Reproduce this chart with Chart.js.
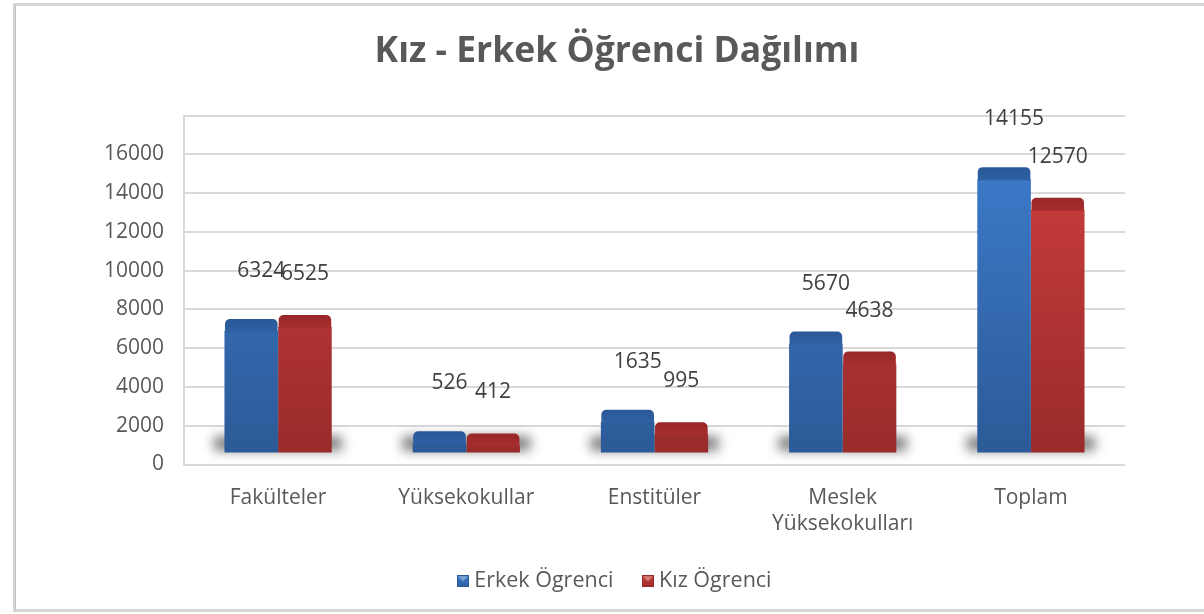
<!DOCTYPE html>
<html>
<head>
<meta charset="utf-8">
<script src="https://cdn.jsdelivr.net/npm/chart.js@4.4.0/dist/chart.umd.min.js"></script>
<style>
  html, body { margin: 0; padding: 0; background: #ffffff; }
  #wrap { position: relative; width: 1204px; height: 614px; }
  canvas { display: block; }
</style>
</head>
<body>
<div id="wrap"><canvas id="c" width="1204" height="614"></canvas></div>
<script>
// ---- data ----
const chartTitle = "Kız - Erkek Öğrenci Dağılımı";
const categories = ["Fakülteler", "Yüksekokullar", "Enstitüler", ["Meslek", "Yüksekokulları"], "Toplam"];
const seriesNames = ["Erkek Ögrenci", "Kız Ögrenci"];
const erkekValues = [6324, 526, 1635, 5670, 14155];
const kizValues = [6525, 412, 995, 4638, 12570];
const yTicks = [0, 2000, 4000, 6000, 8000, 10000, 12000, 14000, 16000];

// ---- styling ----
const FONT = "'Open Sans', 'Noto Sans', sans-serif";
const LIFT = 11;   // 3D floor lift
const CAP = 12;    // 3D top face
const palette = [
  { top: "#3f80d3", bottom: "#2c5a97", cap: "#2e60a3", capTop: "#2a5896", label: "#404040", dx: 10, dy: 48 },
  { top: "#d4413f", bottom: "#992b2b", cap: "#a52d2d", capTop: "#982828", label: "#404040", dx: 0, dy: 41 }
];

function barGradient(idx) {
  return function (ctx) {
    const chart = ctx.chart;
    const area = chart.chartArea;
    if (!area) return palette[idx].top;
    const g = chart.ctx.createLinearGradient(0, area.top, 0, area.bottom);
    g.addColorStop(0, palette[idx].top);
    g.addColorStop(1, palette[idx].bottom);
    return g;
  };
}

function legendIcon(idx) {
  const c = document.createElement("canvas");
  c.width = 12; c.height = 12;
  const x = c.getContext("2d");
  const p = palette[idx];
  x.fillStyle = p.bottom; x.fillRect(0, 0, 12, 12);
  const g = x.createLinearGradient(0, 0, 0, 12);
  g.addColorStop(0, p.top); g.addColorStop(1, p.bottom);
  x.fillStyle = g; x.fillRect(1, 1, 10, 10);
  x.fillStyle = "rgba(255,255,255,0.35)";
  x.beginPath(); x.moveTo(1, 1); x.lineTo(11, 1); x.lineTo(6, 6); x.closePath(); x.fill();
  return c;
}
const icons = [legendIcon(0), legendIcon(1)];

const frame3d = {
  id: "frame3d",
  beforeDraw(chart) {
    const ctx = chart.ctx;
    ctx.save();
    ctx.fillStyle = "#ffffff";
    ctx.fillRect(0, 0, chart.width, chart.height);
    ctx.strokeStyle = "#d6d6d6";
    ctx.lineWidth = 3;
    ctx.strokeRect(14.5, 4.5, chart.width + 10, 606);
    ctx.strokeStyle = "#c4c4c4";
    ctx.lineWidth = 1;
    ctx.beginPath(); ctx.moveTo(15.5, 5); ctx.lineTo(15.5, 611); ctx.stroke();
    ctx.restore();
  },
  beforeDatasetsDraw(chart) {
    const ctx = chart.ctx;
    const xs = chart.scales.x, ys = chart.scales.y;
    const base = ys.getPixelForValue(0) - LIFT;
    ctx.save();
    ctx.filter = "blur(6px)";
    ctx.fillStyle = "rgba(105,105,105,0.9)";
    categories.forEach((c, i) => {
      const cx = xs.getPixelForValue(i);
      ctx.fillRect(cx - 64, base - 17, 128, 14);
    });
    ctx.restore();
    ctx.save();
    ctx.translate(0, -LIFT);
  },
  afterDatasetsDraw(chart) {
    const ctx = chart.ctx;
    chart.data.datasets.forEach((ds, di) => {
      const meta = chart.getDatasetMeta(di);
      const p = palette[di];
      meta.data.forEach((bar) => {
        const w = bar.width;
        const l = bar.x - w / 2, t = bar.y - CAP;
        const g = ctx.createLinearGradient(0, t, 0, bar.y);
        g.addColorStop(0, p.capTop); g.addColorStop(1, p.cap);
        ctx.fillStyle = g;
        ctx.beginPath();
        ctx.roundRect(l + 0.5, t, w - 1, CAP + 1, [5, 5, 0, 0]);
        ctx.fill();
      });
    });
    ctx.restore();
    ctx.save();
    ctx.font = "21px " + FONT;
    ctx.textAlign = "center";
    ctx.textBaseline = "middle";
    chart.data.datasets.forEach((ds, di) => {
      const meta = chart.getDatasetMeta(di);
      const p = palette[di];
      meta.data.forEach((bar, i) => {
        ctx.fillStyle = p.label;
        ctx.fillText(String(ds.data[i]), bar.x + p.dx, bar.y - LIFT - CAP - p.dy);
      });
    });
    ctx.restore();
  }
};

new Chart(document.getElementById("c"), {
  type: "bar",
  data: {
    labels: categories,
    datasets: [
      { label: seriesNames[0], data: erkekValues, backgroundColor: barGradient(0), borderWidth: 0 },
      { label: seriesNames[1], data: kizValues, backgroundColor: barGradient(1), borderWidth: 0 }
    ]
  },
  plugins: [frame3d],
  options: {
    responsive: false,
    animation: false,
    devicePixelRatio: 1,
    categoryPercentage: 0.57,
    barPercentage: 1.0,
    layout: { padding: { left: 30, right: 0, top: 0, bottom: 12 } },
    plugins: {
      title: {
        display: true,
        text: chartTitle,
        color: "#595959",
        font: { family: FONT, size: 35.5, weight: "bold", lineHeight: 1.2 },
        padding: { top: 31, bottom: 42 }
      },
      legend: {
        position: "bottom",
        labels: {
          usePointStyle: true,
          pointStyleWidth: 1,
          generateLabels() {
            return seriesNames.map((n, i) => ({
              text: n, pointStyle: icons[i], fillStyle: palette[i].top,
              strokeStyle: palette[i].top, lineWidth: 0, datasetIndex: i, hidden: false, fontColor: "#595959"
            }));
          },
          color: "#595959",
          font: { family: FONT, size: 21.5 },
          padding: 34
        }
      },
      tooltip: { enabled: false }
    },
    scales: {
      x: {
        grid: { display: false, drawTicks: false },
        border: { display: false },
        ticks: {
          color: "#595959",
          font: { family: FONT, size: 21, lineHeight: 1.25 },
          padding: 20,
          maxRotation: 0,
          autoSkip: false
        },
        afterFit(s) { s.height = 72; }
      },
      y: {
        min: 0,
        max: 18000,
        afterBuildTicks(s) { s.ticks = yTicks.concat([18000]).map(v => ({ value: v })); },
        grid: { color: "#d9d9d9", lineWidth: 2, drawTicks: false },
        border: { display: true, color: "#d9d9d9", width: 2 },
        ticks: {
          color: "#595959",
          font: { family: FONT, size: 21 },
          padding: 20,
          callback(v) { return yTicks.includes(v) ? String(v) : ""; }
        },
        afterFit(s) { s.width = 154; }
      },
      yRight: {
        position: "right",
        display: true,
        grid: { display: false, drawTicks: false },
        border: { display: false },
        ticks: { display: false },
        afterFit(s) { s.width = 79; }
      }
    }
  }
});
</script>
</body>
</html>
